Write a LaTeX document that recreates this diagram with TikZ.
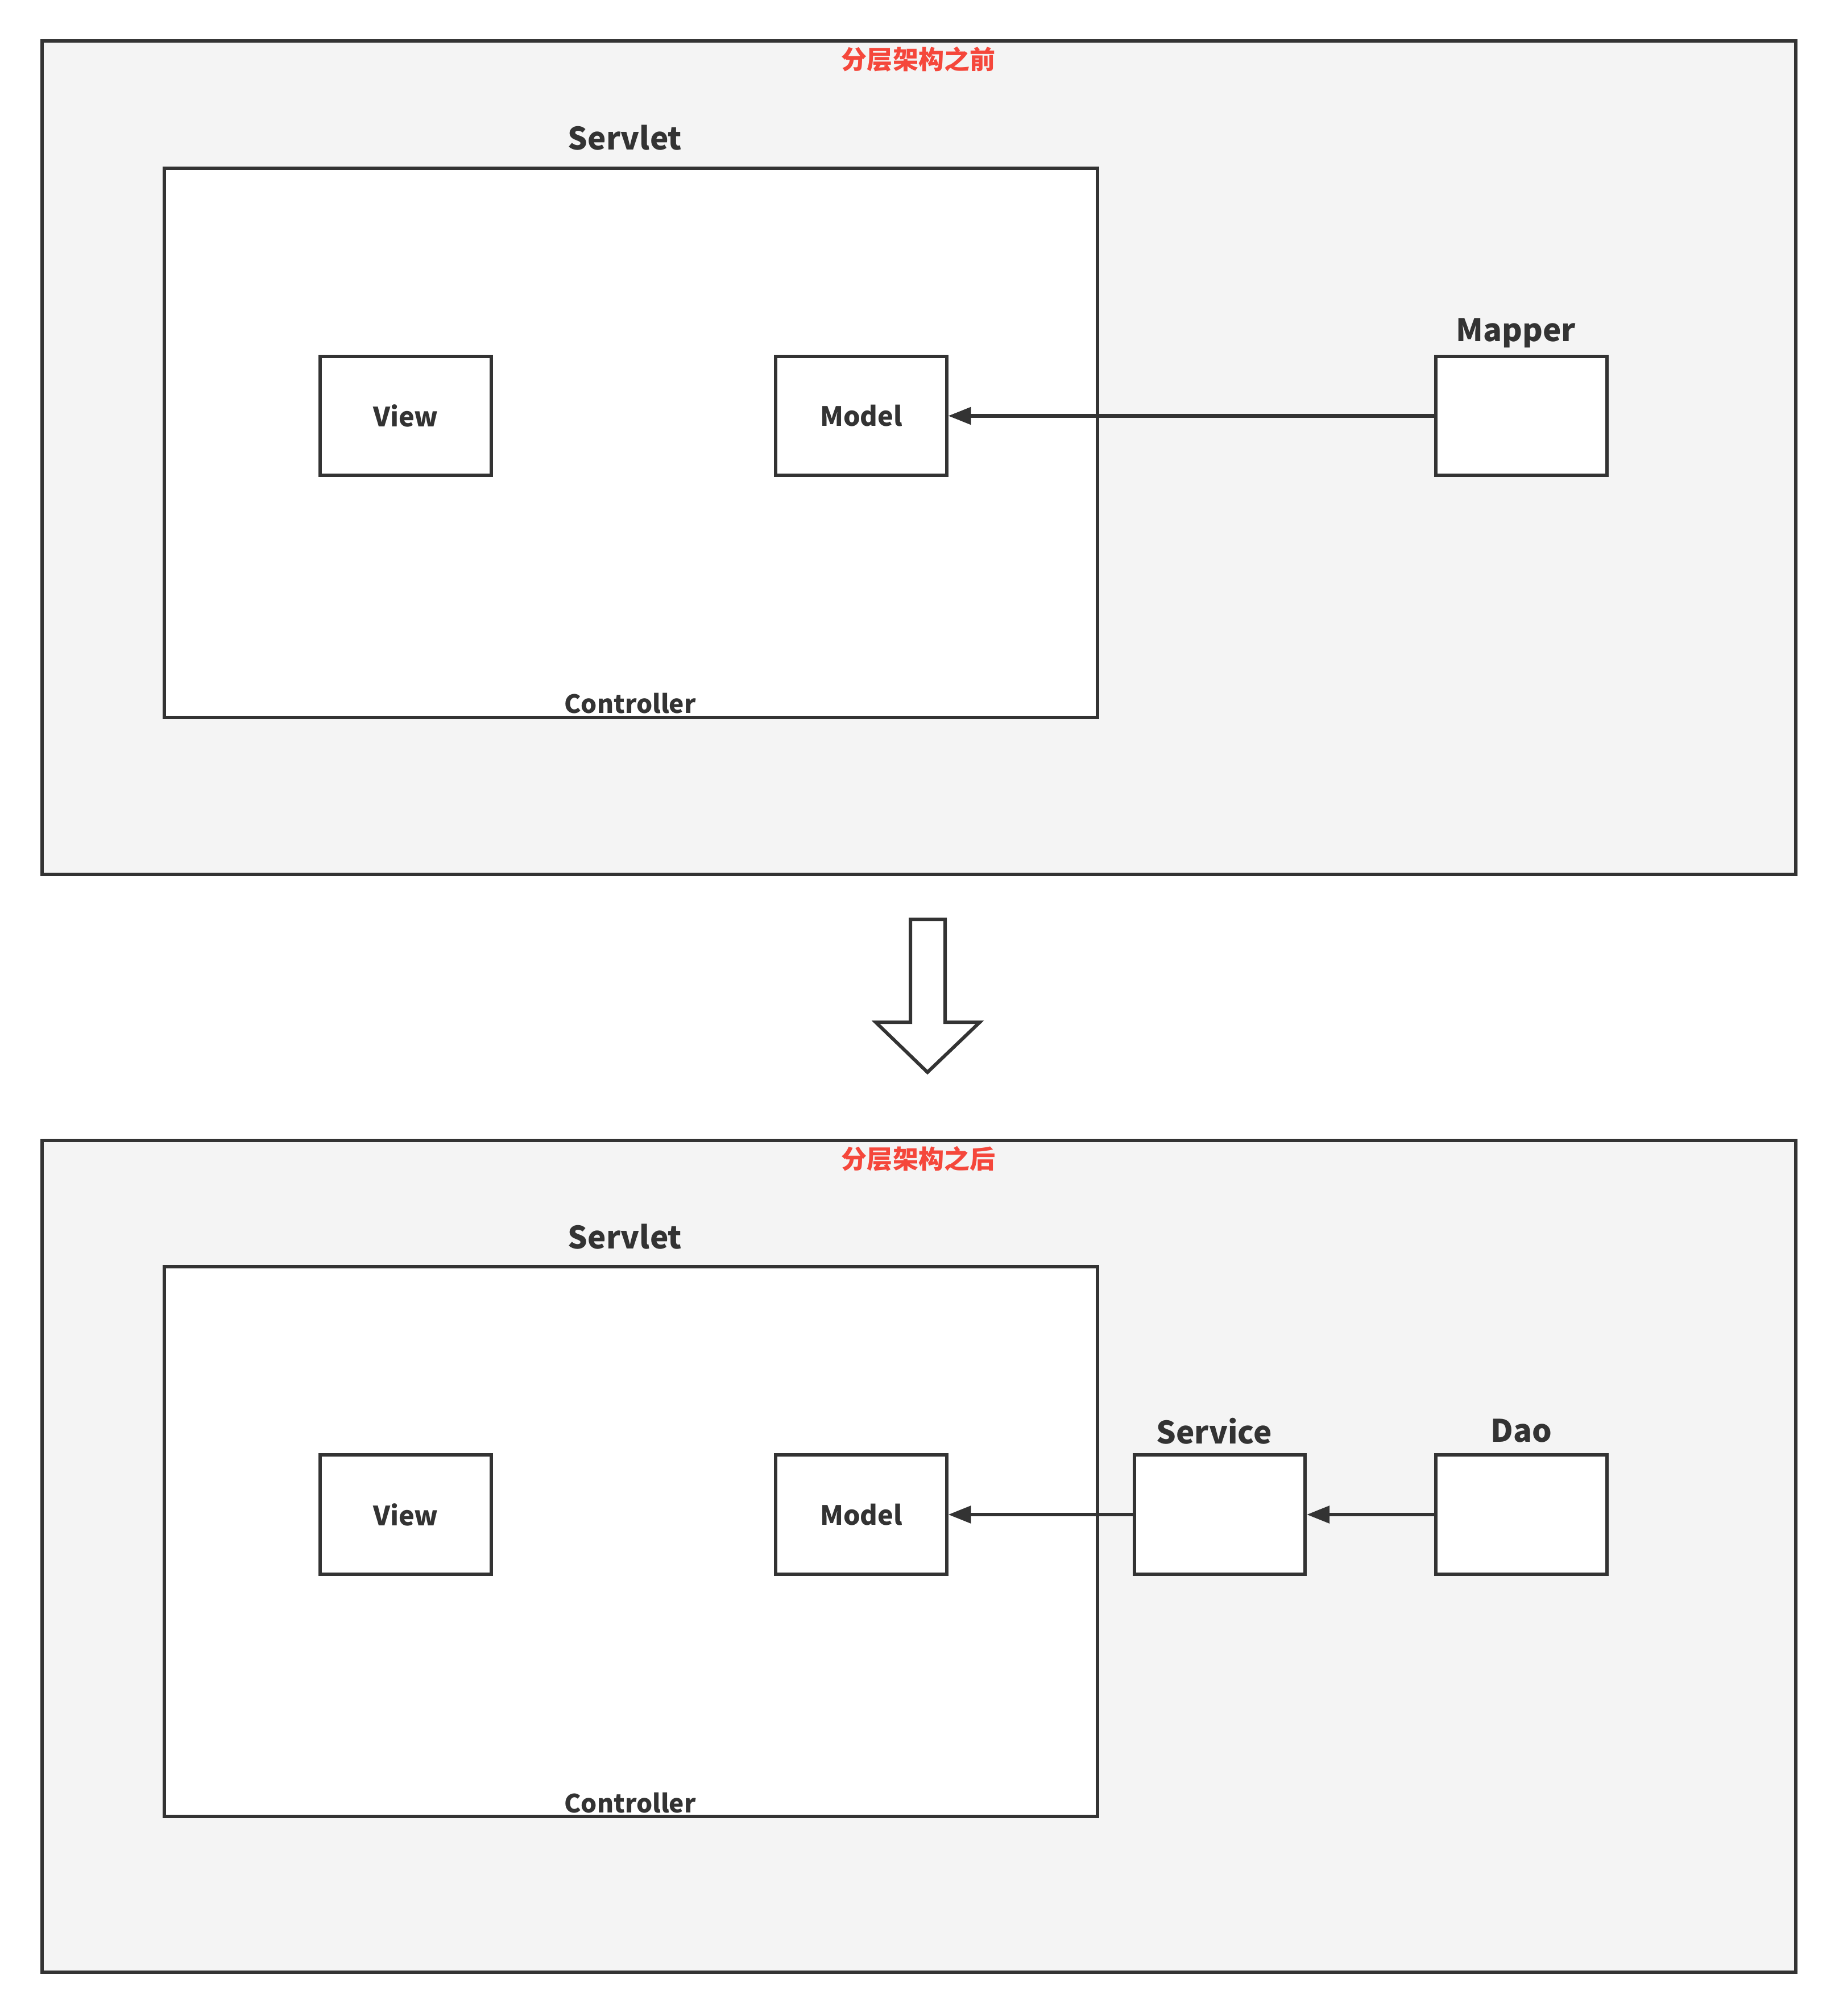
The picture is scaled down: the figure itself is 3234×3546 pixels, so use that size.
\documentclass[tikz,border=0pt]{standalone}
\usepackage{fontspec}
\setmainfont{Noto Sans CJK SC}
\usetikzlibrary{arrows.meta}
\definecolor{ink}{HTML}{333333}
\definecolor{bgframe}{HTML}{F4F4F4}
\definecolor{titlered}{HTML}{F5473B}
\begin{document}
\begin{tikzpicture}[x=0.01cm,y=-0.01cm,
  line width=0.06cm,
  frame/.style={draw=ink,fill=bgframe,inner sep=0pt,minimum width=30.82cm},
  servletbox/.style={draw=ink,fill=white,inner sep=0pt,minimum width=16.40cm,minimum height=9.66cm},
  smallbox/.style={draw=ink,fill=white,inner sep=0pt,minimum width=3.0cm,minimum height=2.09cm,font=\bfseries\fontsize{13.3}{15}\selectfont,text=ink},
  biglabel/.style={font=\bfseries\fontsize{15.5}{18}\selectfont,text=ink,inner sep=0pt},
  ctrllabel/.style={font=\bfseries\fontsize{12.6}{15}\selectfont,text=ink,inner sep=0pt},
  redtitle/.style={font=\bfseries\fontsize{12.8}{15}\selectfont,text=titlered,inner sep=0pt},
  conn/.style={draw=ink,-{Triangle[length=0.4cm,width=0.3cm]}}
]
\useasboundingbox[fill=white] (0,0) rectangle (3234,3546);

% ---------- before ----------
\node[frame,minimum height=14.66cm] (frameA) at (1616,805) {};
\node[redtitle] (titleA) at (1615,104) {分层架构之前};
\node[servletbox] (servletA) at (1109,779) {};
\node[biglabel] (servletAlab) at (1099,242) {Servlet};
\node[ctrllabel] (ctrlA) at (1108,1237) {Controller};
\node[smallbox] (viewA) at (713.5,731.5) {View};
\node[smallbox] (modelA) at (1514.5,731.5) {Model};
\node[smallbox] (mapper) at (2675.5,731.5) {};
\node[biglabel] (mapperlab) at (2666,586) {Mapper};
\draw[conn] (mapper.west) -- (modelA.east);

% ---------- block arrow ----------
\coordinate (bt) at (1631,1886);
\draw[draw=ink,fill=white,line join=miter]
  (1601,1617) -- (1662,1617) -- (1662,1798) -- (1723,1798) -- (bt)
  -- (1540,1798) -- (1601,1798) -- cycle;

% ---------- after ----------
\node[frame,minimum height=14.63cm] (frameB) at (1616,2737.5) {};
\node[redtitle] (titleB) at (1615,2038) {分层架构之后};
\node[servletbox,minimum height=9.67cm] (servletB) at (1109,2711.5) {};
\node[biglabel] (servletBlab) at (1099,2175) {Servlet};
\node[ctrllabel] (ctrlB) at (1108,3171) {Controller};
\node[smallbox] (viewB) at (713.5,2664) {View};
\node[smallbox] (modelB) at (1514.5,2664) {Model};
\node[smallbox] (service) at (2145,2664) {};
\node[biglabel] (servicelab) at (2135,2517) {Service};
\node[smallbox] (dao) at (2675.5,2664) {};
\node[biglabel] (daolab) at (2675,2517) {Dao};
\draw[conn] (service.west) -- (modelB.east);
\draw[conn] (dao.west) -- (service.east);
\end{tikzpicture}
\end{document}
